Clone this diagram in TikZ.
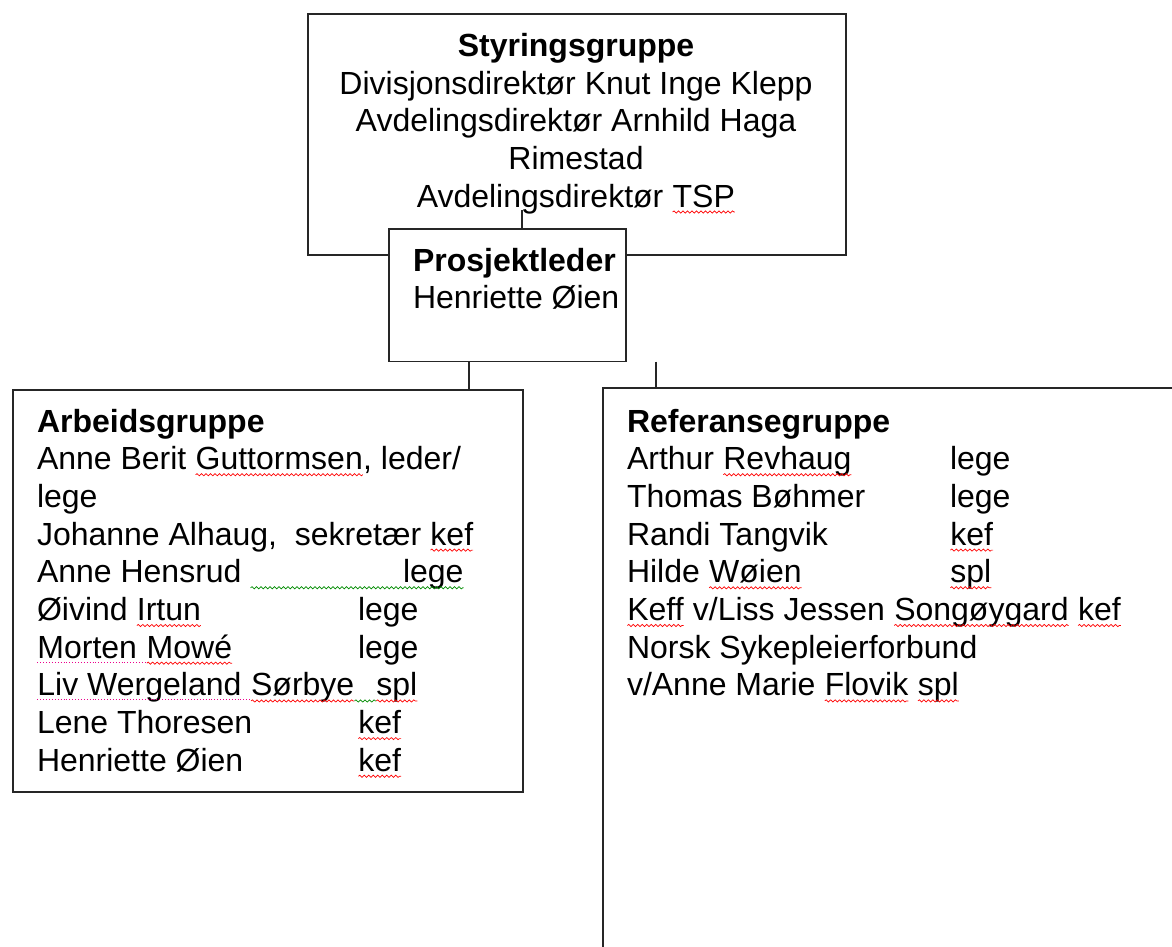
\documentclass[tikz,border=0pt]{standalone}
\usepackage{fontspec}
\setmainfont{Liberation Sans}
\usetikzlibrary{decorations.pathmorphing}
\tikzset{
  box/.style={draw=black!85, line width=1.3pt, fill=white, inner sep=0pt, outer sep=0pt, anchor=north west},
  txt/.style={anchor=base west, inner sep=0pt, outer sep=0pt, font=\fontsize{32}{37.7}\selectfont},
  ctxt/.style={anchor=base, inner sep=0pt, outer sep=0pt, font=\fontsize{32}{37.7}\selectfont},
  conn/.style={draw=black!85, line width=1.3pt},
  wave/.style={decorate, decoration={snake, segment length=4.5pt, amplitude=1.1pt}, line width=0.7pt},
  dotline/.style={magenta, dotted, line width=0.9pt},
}
\newcommand\sqw[2][red]{\tikz[baseline=(w.base)]{\node[inner sep=0pt,outer sep=0pt](w){#2};\draw[wave,#1]([yshift=-5pt]w.base west)--([yshift=-5pt]w.base east);}}
\newcommand\dotu[1]{\tikz[baseline=(w.base)]{\node[inner sep=0pt,outer sep=0pt](w){#1};\draw[dotline]([yshift=-4pt]w.base west)--([yshift=-4pt]w.base east);}}
\begin{document}
\begin{tikzpicture}[x=1pt,y=-1pt]
\useasboundingbox (0,0) rectangle (1172,946);
\clip (0,0) rectangle (1172,946);
% boxes
\node[box, minimum width=538pt, minimum height=241pt] (sg) at (308,14) {};
\node[box, minimum width=510pt, minimum height=402pt] (ag) at (13,390) {};
\node[box, minimum width=700pt, minimum height=700pt] (rg) at (603,388) {};
% connector from Styringsgruppe
\coordinate (c1) at (522,210);
\node[box, minimum width=237pt, minimum height=132.5pt] (pl) at (389,229) {};
\draw[conn] (c1) -- (c1 |- pl.north);
\draw[conn] ([xshift=-38.5pt]pl.south) -- ([xshift=-38.5pt]pl.south |- ag.north);
\draw[conn] ([xshift=148.5pt]pl.south) -- ([xshift=148.5pt]pl.south |- rg.north);
% Styringsgruppe text
\node[ctxt] (s0) at (576,56) {\bfseries Styringsgruppe};
\node[ctxt] (s1) at (576,94) {Divisjonsdirektør Knut Inge Klepp};
\node[ctxt] (s2) at (576,131.5) {Avdelingsdirektør Arnhild Haga};
\node[ctxt] (s3) at (576,169) {Rimestad};
\node[ctxt] (s4) at (576,207) {Avdelingsdirektør \sqw{TSP}};
% Prosjektleder text
\node[txt] (p0) at (413,271) {\bfseries Prosjektleder};
\node[txt] (p1) at (413,308.7) {Henriette Øien};
% Arbeidsgruppe text
\node[txt] (a0) at (37,432) {\bfseries Arbeidsgruppe};
\node[txt] (a1) at (37,469.7) {Anne Berit \sqw{Guttormsen}, leder/};
\node[txt] (a2) at (37,507.4) {lege};
\node[txt] (a3) at (37,545.1) {Johanne Alhaug,\ \ sekretær \sqw{kef}};
\node[txt] (a4) at (37,582.8) {Anne Hensrud};
\node[txt] (a4b) at (403,582.8) {lege};
\draw[wave, green!55!black] ([xshift=9pt,yshift=-5pt]a4.base east) -- ([yshift=-5pt]a4b.base east);
\node[txt] (a5) at (37,620.5) {Øivind \sqw{Irtun}};
\node[txt] (a5b) at (358,620.5) {lege};
\node[txt] (a6) at (37,658.2) {\dotu{Morten\ \null}\sqw{Mowé}};
\node[txt] (a6b) at (358,658.2) {lege};
\node[txt] (a7) at (37,695.9) {\dotu{Liv Wergeland\ \null}\sqw{Sørbye}};
\node[txt] (a7b) at (376,695.9) {\sqw{spl}};
\draw[wave, green!55!black] ([yshift=-5pt]a7.base east) -- ([yshift=-5pt]a7b.base west);
\node[txt] (a8) at (37,733.6) {Lene Thoresen};
\node[txt] (a8b) at (358,733.6) {\sqw{kef}};
\node[txt] (a9) at (37,771.3) {Henriette Øien};
\node[txt] (a9b) at (358,771.3) {\sqw{kef}};
% Referansegruppe text
\node[txt] (r0) at (627,432) {\bfseries Referansegruppe};
\node[txt] (r1) at (627,469.7) {Arthur \sqw{Revhaug}};
\node[txt] (r1b) at (950,469.7) {lege};
\node[txt] (r2) at (627,507.4) {Thomas Bøhmer};
\node[txt] (r2b) at (950,507.4) {lege};
\node[txt] (r3) at (627,545.1) {Randi Tangvik};
\node[txt] (r3b) at (950,545.1) {\sqw{kef}};
\node[txt] (r4) at (627,582.8) {Hilde \sqw{Wøien}};
\node[txt] (r4b) at (950,582.8) {\sqw{spl}};
\node[txt] (r5) at (627,620.5) {\sqw{Keff} v/Liss Jessen \sqw{Songøygard} \sqw{kef}};
\node[txt] (r6) at (627,658.2) {Norsk Sykepleierforbund};
\node[txt] (r7) at (627,695.9) {v/Anne Marie \sqw{Flovik} \sqw{spl}};
\end{tikzpicture}
\end{document}
